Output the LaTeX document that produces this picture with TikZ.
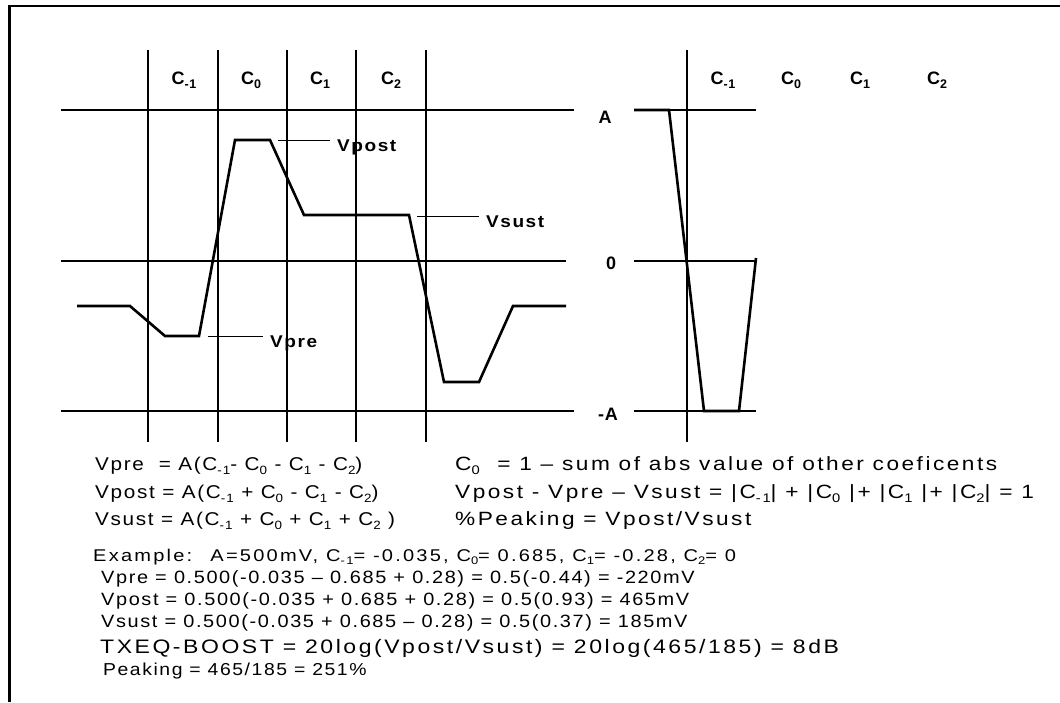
\documentclass[tikz,border=0pt]{standalone}
\usepackage{fontspec}
\newfontfamily\arialfont{Liberation Sans}[FakeStretch=1.12, LetterSpace=9]
\newfontfamily\arialwide{Liberation Sans}[FakeStretch=1.18, LetterSpace=13]
\newfontfamily\arialtight{Liberation Sans}[LetterSpace=4]
\def\subsz{11}
\newcommand{\csub}[1]{\raisebox{-0.2em}{\fontsize{\subsz}{\subsz}\selectfont #1}}

\begin{document}
\begin{tikzpicture}[
  x=1pt, y=-1pt,
  gridline/.style={draw=black, line width=1.2pt},
  wave/.style={draw=black, line width=2.6pt},
  leader/.style={draw=black, line width=1pt, shorten >=7pt},
  clabel/.style={font=\arialtight\bfseries\fontsize{18}{20}\selectfont\def\subsz{12.5}, inner sep=0pt},
  vlabel/.style={font=\arialfont\bfseries\fontsize{17}{20}\selectfont, inner sep=0pt, anchor=north west},
  eqtext/.style={font=\arialfont\fontsize{18.5}{20}\selectfont\def\subsz{12}, inner sep=0pt, anchor=west},
  eqwide/.style={eqtext, font=\arialwide\fontsize{19.2}{21}\selectfont\def\subsz{12.5}},
  extext/.style={font=\arialfont\fontsize{17.8}{19}\selectfont\def\subsz{11.5}, inner sep=0pt, anchor=west}
]
\useasboundingbox (0,0) rectangle (1060,702);

% frame
\draw[line width=2.5pt] (1060,6) -- (9.5,6) -- (9.5,702);

% left grid
\foreach \x in {148,218,287,356,426}
  \draw[gridline] (\x,50) -- (\x,442);
\draw[gridline] (61,110) -- (574,110);
\draw[gridline] (61,261) -- (566,261);
\draw[gridline] (61,411) -- (574,411);

% right grid
\draw[gridline] (687,50) -- (687,442);
\foreach \y in {110,261,411}
  \draw[gridline] (634,\y) -- (756,\y);

% tap labels
\foreach \x/\s/\n in {184/-1/a, 251/0/b, 320/1/c, 391/2/d}
  \node[clabel] (tapL\n) at (\x,80) {C\csub{\s}};
\foreach \x/\s/\n in {723/-1/a, 791/0/b, 860/1/c, 937/2/d}
  \node[clabel] (tapR\n) at (\x,80) {C\csub{\s}};

\node[clabel] (levA) at (605,117) {A};
\node[clabel] (levZ) at (611,263) {0};
\node[clabel] (levN) at (608,414) {-A};

% waveforms
\draw[wave] (77,306) -- (130,306) -- (165,336) -- (199,336) -- (235,140)
  -- (270,140) -- (304,215) -- (409,215) -- (444,382) -- (479,382)
  -- (513,306) -- (566,306);
\draw[wave] (634,110) -- (669,110) -- (704,411) -- (739,411) -- (756,258);

% level names
\node[vlabel] (vpost) at (337,140) {Vpost};
\node[vlabel] (vsust) at (486,216) {Vsust};
\node[vlabel] (vpre) at (270,336) {Vpre};
\coordinate (postA) at (278,140);
\coordinate (sustA) at (417,216);
\coordinate (preA) at (208,336);
\draw[leader] (postA) -- (vpost.north west);
\draw[leader] (sustA) -- (vsust.north west);
\draw[leader] (preA) -- (vpre.north west);

% formulas
\node[eqtext] (eqpre) at (95,466) {Vpre~~= A(C\csub{-1}- C\csub{0} - C\csub{1} - C\csub{2})};
\node[eqtext] (eqpost) at (95,494) {Vpost = A(C\csub{-1} + C\csub{0} - C\csub{1} - C\csub{2})};
\node[eqtext] (eqsust) at (95,521) {Vsust = A(C\csub{-1} + C\csub{0} + C\csub{1} + C\csub{2} )};
\node[eqwide] (eqsum) at (455,466) {C\csub{0}~ = 1 – sum of abs value of other coeficents};
\node[eqwide] (eqdiff) at (455,494) {Vpost - Vpre – Vsust = |C\csub{-1}| + |C\csub{0} |+ |C\csub{1} |+ |C\csub{2}| = 1};
\node[eqwide] (eqpk) at (455,521) {\%Peaking = Vpost/Vsust};

% worked example
\node[extext, font=\arialwide\fontsize{17}{19}\selectfont] (ex0) at (93,557) {Example:~ A=500mV, C\csub{-1}= -0.035, C\csub{0}= 0.685, C\csub{1}= -0.28, C\csub{2}= 0};
\node[extext] (ex1) at (101,579) {Vpre = 0.500(-0.035 – 0.685 + 0.28) = 0.5(-0.44) = -220mV};
\node[extext] (ex2) at (101,601) {Vpost = 0.500(-0.035 + 0.685 + 0.28) = 0.5(0.93) = 465mV};
\node[extext] (ex3) at (101,623) {Vsust = 0.500(-0.035 + 0.685 – 0.28) = 0.5(0.37) = 185mV};
\node[extext, font=\arialwide\fontsize{19.5}{21}\selectfont] (ex4) at (100,648) {TXEQ-BOOST = 20log(Vpost/Vsust) = 20log(465/185) = 8dB};
\node[extext, font=\arialfont\fontsize{17.3}{19}\selectfont] (ex5) at (103,671) {Peaking = 465/185 = 251\%};

\end{tikzpicture}
\end{document}
